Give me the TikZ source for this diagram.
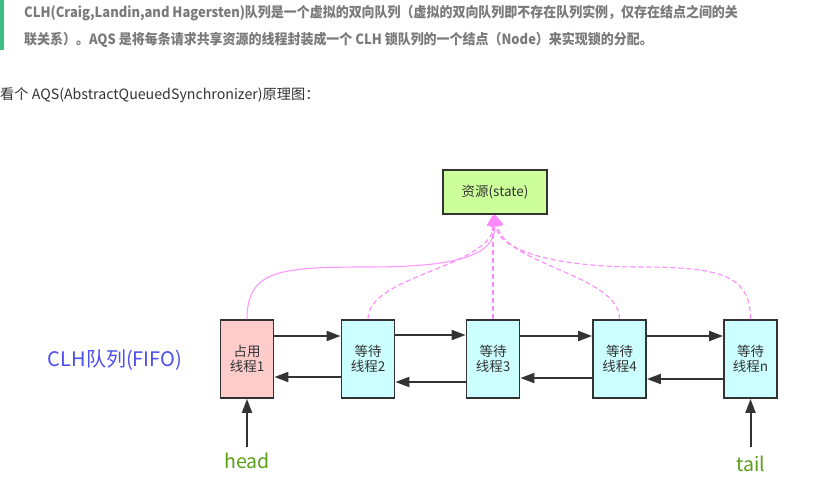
\documentclass[tikz,border=0pt]{standalone}
\usepackage{fontspec}
\setmainfont{Noto Sans CJK SC}
\newfontfamily\hdrfont{Noto Sans CJK SC}[FakeStretch=0.92]
\usetikzlibrary{arrows.meta}
\definecolor{barg}{HTML}{3DBE82}
\definecolor{hdrgray}{HTML}{7A7A7A}
\definecolor{txtdark}{HTML}{333333}
\definecolor{boxline}{HTML}{333333}
\definecolor{respfill}{HTML}{CCFF99}
\definecolor{ownfill}{HTML}{FFCCCC}
\definecolor{waitfill}{HTML}{CCFFFF}
\definecolor{pinkl}{HTML}{FF88FF}
\definecolor{pinks}{HTML}{FF99FF}
\definecolor{clhblue}{HTML}{4D4DF0}
\definecolor{lblgreen}{HTML}{5A9E1A}
\tikzset{
  thread/.style={draw=boxline, line width=1.8pt, minimum width=53pt, minimum height=78pt,
    inner sep=0pt, align=center, font=\fontsize{13.5}{15.5}\selectfont, text=txtdark},
  blk/.style={draw=txtdark, line width=2pt, -{Triangle[length=14pt,width=10pt]}},
  pinkarrow/.style={draw=pinkl, line width=1.1pt, dash pattern=on 5pt off 3pt,
    -{Triangle[length=11pt,width=13pt,fill=pinkl]}},
  pinksolid/.style={draw=pinks, line width=1.1pt,
    -{Triangle[length=11pt,width=13pt,fill=pinkl]}},
}
\begin{document}
\begin{tikzpicture}[x=1pt,y=-1pt]
\useasboundingbox[fill=white] (0,0) rectangle (816,483);
% header
\fill[barg] (0,0) rectangle (4,50);
\node[anchor=west, inner sep=0pt, text=hdrgray, font=\hdrfont\bfseries\fontsize{14.1}{16}\selectfont] (h1) at (24,13)
  {CLH(Craig,Landin,and Hagersten)队列是一个虚拟的双向队列（虚拟的双向队列即不存在队列实例，仅存在结点之间的关};
\node[anchor=west, inner sep=0pt, text=hdrgray, font=\hdrfont\bfseries\fontsize{14.1}{16}\selectfont] (h2) at (24,40)
  {联关系）。AQS 是将每条请求共享资源的线程封装成一个 CLH 锁队列的一个结点（Node）来实现锁的分配。};
\node[anchor=west, inner sep=0pt, text=txtdark, font=\fontsize{14.2}{16}\selectfont] (h3) at (0,95)
  {看个 AQS(AbstractQueuedSynchronizer)原理图：};
% resource
\node[draw=boxline, line width=1.8pt, fill=respfill, minimum width=104pt, minimum height=44pt,
  inner sep=0pt, text=txtdark, font=\fontsize{13.5}{15}\selectfont] (res) at (495,192) {资源(state)};
% threads
\node[thread, fill=ownfill] (b1) at (247,359) {占用\\线程1};
\node[thread, fill=waitfill] (b2) at (368,359) {等待\\线程2};
\node[thread, fill=waitfill] (b3) at (493,359) {等待\\线程3};
\node[thread, fill=waitfill] (b4) at (619.5,359) {等待\\线程4};
\node[thread, fill=waitfill] (b5) at (750.5,359) {等待\\线程n};
% forward / backward links
\draw[blk] ([yshift=23pt]b1.east) -- ([yshift=23pt]b2.west);
\draw[blk] ([yshift=-18pt]b2.west) -- ([yshift=-18pt]b1.east);
\draw[blk] ([yshift=24pt]b2.east) -- ([yshift=24pt]b3.west);
\draw[blk] ([yshift=-23pt]b3.west) -- ([yshift=-23pt]b2.east);
\draw[blk] ([yshift=23pt]b3.east) -- ([yshift=23pt]b4.west);
\draw[blk] ([yshift=-19pt]b4.west) -- ([yshift=-19pt]b3.east);
\draw[blk] ([yshift=23pt]b4.east) -- ([yshift=23pt]b5.west);
\draw[blk] ([yshift=-20pt]b5.west) -- ([yshift=-20pt]b4.east);
% pink curves to resource
\draw[pinksolid] (b1.north) .. controls (247,270) and (280,267) .. (367,267)
   .. controls (460,267) and (495,255) .. (res.south);
\draw[pinkarrow] (b2.north) .. controls (368,275) and (490,268) .. (res.south);
\draw[pinkarrow] (b3.north) -- (b3.north |- res.south);
\draw[pinkarrow] (b4.north) .. controls (619.5,275) and (505,265) .. (res.south);
\draw[pinkarrow] (b5.north) .. controls (750.5,275) and (720,267) .. (640,267)
   .. controls (560,267) and (498,252) .. (res.south);
% labels
\node[text=clhblue, font=\fontsize{20}{22}\selectfont, inner sep=0pt] (clh) at (115,360) {CLH队列(FIFO)};
\node[text=lblgreen, font=\fontsize{19.5}{21}\selectfont, inner sep=0pt] (head) at (247,461) {head};
\node[text=lblgreen, font=\fontsize{19.5}{21}\selectfont, inner sep=0pt] (tail) at (750.5,464) {tail};
\coordinate (hs) at (247,447);
\coordinate (ts) at (750.5,447);
\draw[blk] (hs) -- (b1.south);
\draw[blk] (ts) -- (b5.south);
\end{tikzpicture}
\end{document}
